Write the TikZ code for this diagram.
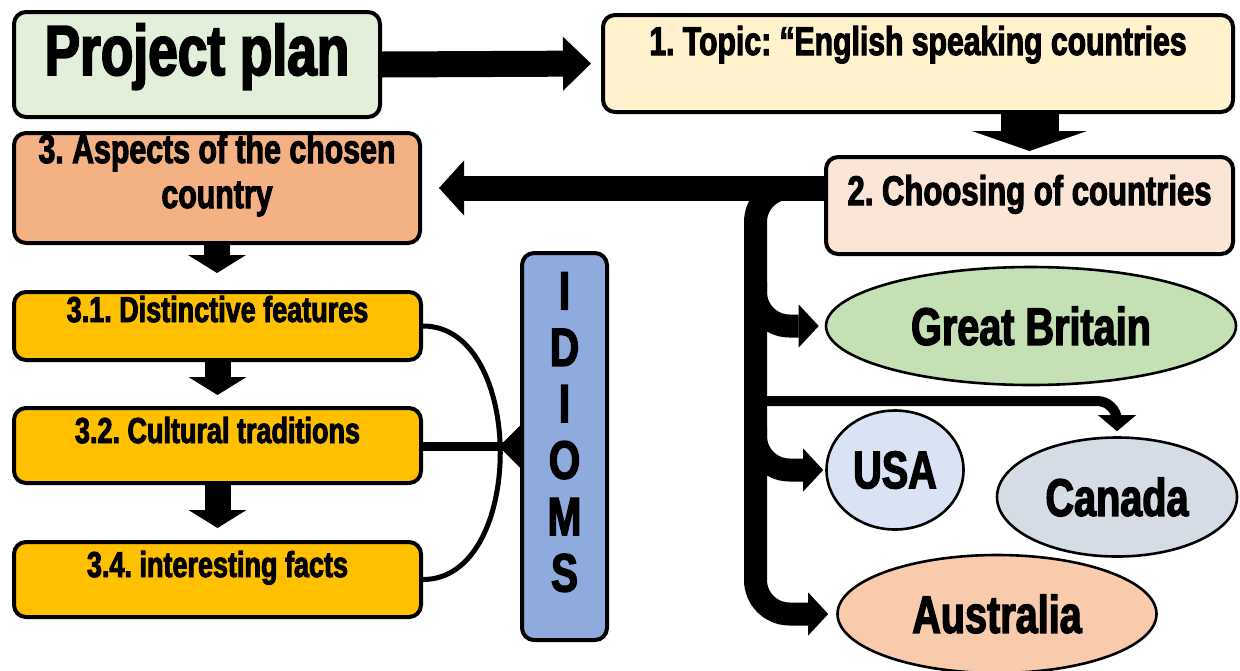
\documentclass[tikz,border=0pt]{standalone}
\usepackage{fontspec}
\usepackage{tikz}
\usetikzlibrary{shapes.geometric}
\usetikzlibrary{arrows.meta}
\usetikzlibrary{calc}

\newfontfamily\heavyfont{Liberation Sans}[FakeStretch=0.75,FakeBold=2.5]
\frenchspacing

\definecolor{PlanGreen}{HTML}{E2EFDA}
\definecolor{TopicYellow}{HTML}{FFF2CC}
\definecolor{ChoosePink}{HTML}{FBE5D6}
\definecolor{AspectOrange}{HTML}{F4B183}
\definecolor{FacetGold}{HTML}{FFC000}
\definecolor{IdiomBlue}{HTML}{8FAADC}
\definecolor{BritainGreen}{HTML}{C5E0B4}
\definecolor{UsaBlue}{HTML}{DAE3F3}
\definecolor{CanadaGrey}{HTML}{D6DCE5}
\definecolor{AussieOrange}{HTML}{F8CBAD}

\begin{document}
\begin{tikzpicture}[x=0.5pt, y=-0.5pt,
    box/.style={draw, line width=2pt, rounded corners=6pt, inner sep=0pt},
    facet/.style={box, fill=FacetGold, minimum width=203.5pt,
      font=\heavyfont\bfseries\fontsize{18}{21}\selectfont},
    oval/.style={draw, ellipse, line width=1.3pt, inner sep=0pt,
      font=\heavyfont\bfseries\fontsize{26.4}{31}\selectfont},
    fat/.style={line width=13pt, -{Triangle[length=14pt,width=27pt,line width=0pt]}},
    drop/.style={line width=13pt, -{Triangle[length=9pt,width=29pt,line width=0pt]}},
    branch/.style={line width=11.5pt, rounded corners=17pt,
      -{Triangle[length=10pt,width=21.5pt,line width=0pt]}}]

    \useasboundingbox (0,0) rectangle (1240,670);

    % boxes of the plan
    \node [box, fill=PlanGreen, minimum width=183pt, text height=31.5pt, text depth=21pt,
      font=\heavyfont\bfseries\fontsize{35.5}{40}\selectfont] (plan) at (197,64.5) {Project plan};
    \node [box, fill=TopicYellow, minimum width=315pt, text height=20pt, text depth=28.5pt,
      font=\heavyfont\bfseries\fontsize{20.1}{24}\selectfont] (topic) at (918,63.5) {1. Topic: “English speaking countries};
    \node [box, fill=ChoosePink, minimum width=203.5pt, text height=24pt, text depth=24.5pt,
      font=\heavyfont\bfseries\fontsize{20.7}{24}\selectfont] (choose) at (1029.5,205.5) {2. Choosing of countries};
    \node [box, fill=AspectOrange, minimum width=203pt, text height=15pt, text depth=40pt,
      font=\heavyfont\bfseries\fontsize{20.2}{22.5}\selectfont] (aspects) at (217,188)
      {\begin{tabular}[t]{@{}c@{}}3. Aspects of the chosen\\country\end{tabular}};

    \node [facet, text height=15pt, text depth=19pt] (s31) at (217.5,326) {3.1. Distinctive features};
    \node [facet, text height=17.5pt, text depth=20pt] (s32) at (217.5,445.5) {3.2. Cultural traditions};
    \node [facet, text height=17.5pt, text depth=20pt] (s34) at (217.5,579.5) {3.4. interesting facts};

    \node [box, fill=IdiomBlue, minimum width=42.5pt, text height=28.25pt, text depth=165.25pt,
      font=\heavyfont\bfseries\fontsize{27}{28.2}\selectfont] (idioms) at (564.5,446.5)
      {\begin{tabular}[t]{@{}c@{}}I\\D\\I\\O\\M\\S\end{tabular}};

    % countries
    \node [oval, fill=BritainGreen, minimum width=205pt, minimum height=59pt] (gb) at (1031,326) {Great Britain};
    \node [oval, fill=UsaBlue, minimum width=68.5pt, minimum height=59.5pt] (usa) at (895,470) {USA};
    \node [oval, fill=CanadaGrey, minimum width=120pt, minimum height=59.5pt] (canada) at (1117,497) {Canada};
    \node [oval, fill=AussieOrange, minimum width=159.5pt, minimum height=59pt] (aus) at (997,614) {Australia};

    \coordinate (forkTop) at (805,188);
    \coordinate (forkGB) at (755.5,282);
    \coordinate (forkCA) at (755.5,401);
    \coordinate (forkUS) at (755.5,428);
    \coordinate (idtip) at ($(idioms.west)+(-21,0)$);

    % main flow
    \draw [fat, shorten >=5pt] (plan.east) -- (topic.west);
    \draw [line width=29pt, -{Triangle[length=10pt,width=57.5pt,line width=0pt]}, shorten >=2pt]
      (choose.north |- topic.south) -- (choose.north);
    \draw [line width=12.5pt, -{Triangle[length=12.5pt,width=27.5pt,line width=0pt]}, shorten >=8.5pt]
      (choose.west |- aspects.east) -- (aspects.east);

    \draw [drop, shorten >=8.5pt] (aspects.south) -- (aspects.south |- s31.north);
    \draw [drop, shorten >=5.5pt] (s31.south) -- (s31.south |- s32.north);
    \draw [drop, shorten >=6pt] (s32.south) -- (s32.south |- s34.north);

    % idioms
    \draw [line width=2.5pt] (s31.east) .. controls +(103,0) and +(103,0) .. (s34.east);
    \draw [line width=4.5pt] (idioms.west) -- (idioms.west -| s32.east);
    \draw [line width=4.5pt, -{Triangle[length=10.5pt,width=21pt,line width=0pt]}] (idioms.west) -- (idtip);

    % countries tree
    \draw [branch, shorten >=4pt] (forkTop) -| (aus.west -| forkGB) -- (aus.west);
    \draw [branch, shorten >=3pt] (forkGB) |- (gb.west);
    \draw [branch, shorten >=1pt] (forkUS) |- (usa.west);
    \draw [line width=5pt, rounded corners=10pt, -{Triangle[length=8pt,width=19pt,line width=0pt]}, shorten >=2.5pt]
      (forkCA) -| (canada.north);

\end{tikzpicture}
\end{document}
